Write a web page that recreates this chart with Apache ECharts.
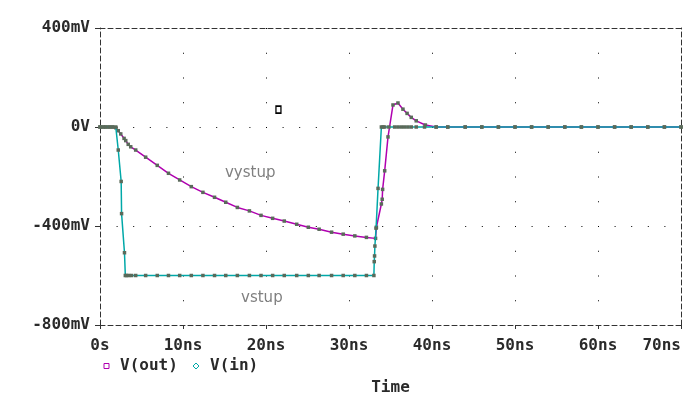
<!DOCTYPE html>
<html>
<head>
<meta charset="utf-8">
<script src="https://cdn.jsdelivr.net/npm/echarts@6/dist/echarts.min.js"></script>
<style>html,body{margin:0;padding:0;background:#fff}#c{width:691px;height:396px}</style>
</head>
<body>
<div id="c"></div>
<script>
// ---- data (time in ns, voltage in mV) ----
const timeOut = [0,0.35,0.7,1.1,1.5,1.9,2.2,2.5,2.9,3.1,3.4,3.7,4.3,5.5,6.9,8.25,9.6,11.0,12.4,13.8,15.15,16.55,18.0,19.4,20.8,22.2,23.7,25.1,26.4,27.9,29.3,30.7,32.1,33.2,33.3,33.9,34.0,34.05,34.3,34.7,35.3,35.9,36.5,37.0,37.5,38.1,39.2,40.5,41.9,44,46,48,50,52,54,56,58,60,62,64,66,68,70];
const vOut    = [0,0,0,0,0,-3,-15,-28,-46,-55,-70,-80,-93,-122,-155,-187,-214,-241,-264,-284,-304,-325,-339,-357,-369,-380,-393,-405,-413,-425,-433,-440,-446,-450,-405,-311,-292,-252,-177,-40,89,97,72,55,39,25,8,0,0,0,0,0,0,0,0,0,0,0,0,0,0,0,0];
const timeIn  = [0,0.35,0.7,1.1,1.5,1.9,2.2,2.55,2.6,2.95,3.05,3.2,3.45,3.8,4.3,5.5,6.9,8.25,9.6,11.0,12.4,13.8,15.15,16.55,18.0,19.4,20.8,22.2,23.7,25.1,26.4,27.9,29.3,30.7,32.1,33.0,33.04,33.08,33.12,33.26,33.5,33.9,34.1,34.3,34.8,35.5,35.9,36.3,36.7,37.1,37.5,38.1,39.1,40.5,41.9,44,46,48,50,52,54,56,58,60,62,64,66,68,70];
const vIn     = [0,0,0,0,0,0,-93,-220,-350,-508,-600,-600,-600,-600,-600,-600,-600,-600,-600,-600,-600,-600,-600,-600,-600,-600,-600,-600,-600,-600,-600,-600,-600,-600,-600,-600,-544,-521,-481,-409,-248,0,0,0,0,0,0,0,0,0,0,0,0,0,0,0,0,0,0,0,0,0,0,0,0,0,0,0,0];
const seriesNames = ['V(out)', 'V(in)'];
const xTickValues = [0,10,20,30,40,50,60,70];
const xTickLabels = ['0s','10ns','20ns','30ns','40ns','50ns','60ns','70ns'];
const yTickValues = [-800,-400,0,400];
const yTickLabels = ['-800mV','-400mV','0V','400mV'];
const annotations = [
  {text:'vystup', t:18.1, v:-186},
  {text:'vstup',  t:19.5, v:-691}
];
const cursorMark = {t:21.5, v:70};
const axisTitle = 'Time';

const zip = (a,b) => a.map((x,i)=>[x,b[i]]);
const MAG = '#b000b0', CYA = '#00a8a8', FRAME = '#333';
const mono = '"DejaVu Sans Mono", monospace';

const chart = echarts.init(document.getElementById('c'), null, {renderer:'canvas'});
const dashFrame = {show:true, onZero:false, lineStyle:{color:FRAME, width:1, type:[5,3]}};
chart.setOption({
  animation:false,
  backgroundColor:'#fff',
  grid:{left:100, top:28, width:581, height:297, containLabel:false, outerBoundsMode:'none'},
  xAxis:[{
    type:'value', min:0, max:70, interval:10, position:'bottom',
    axisLine:dashFrame,
    axisTick:{show:true, length:4, inside:false, lineStyle:{color:FRAME}},
    axisLabel:{color:'#2a2a2a', fontFamily:mono, fontWeight:'bold', fontSize:16, margin:13,
      alignMaxLabel:'right',
      formatter:v=>{const i=xTickValues.indexOf(v); return i>=0?xTickLabels[i]:'';}},
    splitLine:{show:true, showMinLine:false, showMaxLine:false,
      lineStyle:{color:'#000', width:1, type:[1,23.75]}},
    name:axisTitle, nameLocation:'middle', nameGap:55,
    nameTextStyle:{color:'#2a2a2a', fontFamily:mono, fontWeight:'bold', fontSize:16}
  },{
    type:'value', min:0, max:70, position:'top',
    axisLine:dashFrame, axisTick:{show:false}, axisLabel:{show:false}, splitLine:{show:false}
  }],
  yAxis:[{
    type:'value', min:-800, max:400, interval:400, position:'left',
    axisLine:dashFrame,
    axisTick:{show:true, length:5, lineStyle:{color:FRAME}},
    axisLabel:{color:'#2a2a2a', fontFamily:mono, fontWeight:'bold', fontSize:16, margin:10,
      formatter:v=>{const i=yTickValues.indexOf(v); return i>=0?yTickLabels[i]:'';}},
    splitLine:{show:true, showMinLine:false, showMaxLine:false,
      lineStyle:{color:'#000', width:1, type:[1,15.6]}}
  },{
    type:'value', min:-800, max:400, position:'right',
    axisLine:dashFrame, axisTick:{show:false}, axisLabel:{show:false}, splitLine:{show:false}
  }],
  series:[{
    name:seriesNames[0], type:'line', data:zip(timeOut,vOut),
    symbol:'rect', symbolSize:3.5, showAllSymbol:true,
    lineStyle:{color:MAG, width:1.5}, itemStyle:{color:'#5a6a5a'},
    markPoint:{
      symbol:'rect', symbolSize:[5,7],
      itemStyle:{color:'#fff', borderColor:'#000', borderWidth:1.5},
      label:{show:false},
      data:[{coord:[cursorMark.t, cursorMark.v]}]
    },
    z:2
  },{
    name:seriesNames[1], type:'line', data:zip(timeIn,vIn),
    symbol:'rect', symbolSize:3.5, showAllSymbol:true,
    lineStyle:{color:CYA, width:1.5}, itemStyle:{color:'#5a6a5a'},
    markPoint:{
      symbol:'circle', symbolSize:1, itemStyle:{color:'transparent'},
      label:{show:true, position:'inside', color:'#808080', fontFamily:'"DejaVu Sans", sans-serif', fontSize:15,
        formatter:p=>p.name},
      data:annotations.map(a=>({name:a.text, coord:[a.t,a.v]}))
    },
    z:3
  }],
  graphic:[
    {type:'rect', shape:{x:104, y:363.5, width:5, height:5}, style:{fill:null, stroke:MAG, lineWidth:1}},
    {type:'text', x:120, y:366, style:{text:seriesNames[0], fill:'#2a2a2a', font:'bold 16px "DejaVu Sans Mono", monospace', verticalAlign:'middle'}},
    {type:'polygon', shape:{points:[[196,363],[199,366],[196,369],[193,366]]}, style:{fill:null, stroke:CYA, lineWidth:1}},
    {type:'text', x:210, y:366, style:{text:seriesNames[1], fill:'#2a2a2a', font:'bold 16px "DejaVu Sans Mono", monospace', verticalAlign:'middle'}}
  ]
});
</script>
</body>
</html>
